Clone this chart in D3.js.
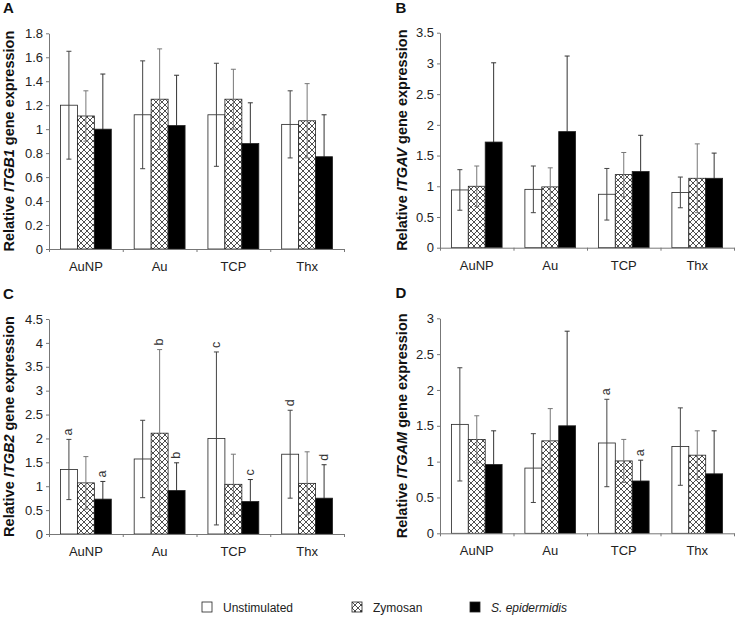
<!DOCTYPE html>
<html>
<head>
<meta charset="utf-8">
<script src="https://cdn.jsdelivr.net/npm/d3@7"></script>
<style>
  body { margin: 0; background: #fff; }
  svg { font-family: "Liberation Sans", Arial, sans-serif; }
</style>
</head>
<body>
<svg id="chart" width="738" height="620"></svg>
<script>
(function () {
    'use strict';

    var categories = ["AuNP", "Au", "TCP", "Thx"];
    var series = ["Unstimulated", "Zymosan", "S. epidermidis"];

    // A - ITGB1
    var itgb1Mean = [[1.20, 1.12, 1.12, 1.04], [1.11, 1.25, 1.25, 1.07], [1.00, 1.03, 0.88, 0.77]];
    var itgb1Err  = [[0.45, 0.45, 0.43, 0.28], [0.21, 0.42, 0.25, 0.31], [0.46, 0.42, 0.34, 0.35]];
    // B - ITGAV
    var itgavMean = [[0.94, 0.95, 0.87, 0.90], [1.00, 0.99, 1.19, 1.13], [1.72, 1.89, 1.24, 1.13]];
    var itgavErr  = [[0.33, 0.38, 0.42, 0.25], [0.33, 0.31, 0.36, 0.56], [1.29, 1.23, 0.59, 0.41]];
    // C - ITGB2
    var itgb2Mean = [[1.35, 1.57, 2.00, 1.67], [1.07, 2.11, 1.04, 1.06], [0.73, 0.91, 0.68, 0.75]];
    var itgb2Err  = [[0.63, 0.81, 1.81, 0.92], [0.55, 1.75, 0.63, 0.66], [0.37, 0.58, 0.46, 0.70]];
    // D - ITGAM
    var itgamMean = [[1.52, 0.91, 1.26, 1.21], [1.31, 1.29, 1.01, 1.09], [0.96, 1.50, 0.73, 0.83]];
    var itgamErr  = [[0.79, 0.48, 0.61, 0.54], [0.33, 0.45, 0.30, 0.34], [0.47, 1.32, 0.29, 0.60]];

    // significance letters [category, series index, letter]
    var itgb2Letters = [["AuNP", 0, "a"], ["AuNP", 2, "a"], ["Au", 1, "b"], ["Au", 2, "b"],
                        ["TCP", 0, "c"], ["TCP", 2, "c"], ["Thx", 0, "d"], ["Thx", 2, "d"]];
    var itgamLetters = [["TCP", 0, "a"], ["TCP", 2, "a"]];

    var panels = [
        {tag: "A", gene: "ITGB1", mean: itgb1Mean, err: itgb1Err, max: 1.8, step: 0.2, letters: [],
         x0: 49, x1: 344, top: 33.3, bottom: 249, titleX: 14},
        {tag: "B", gene: "ITGAV", mean: itgavMean, err: itgavErr, max: 3.5, step: 0.5, letters: [],
         x0: 440, x1: 734, top: 32.7, bottom: 247.7, titleX: 406.5},
        {tag: "C", gene: "ITGB2", mean: itgb2Mean, err: itgb2Err, max: 4.5, step: 0.5, letters: itgb2Letters,
         x0: 49, x1: 344, top: 319, bottom: 534, titleX: 14},
        {tag: "D", gene: "ITGAM", mean: itgamMean, err: itgamErr, max: 3, step: 0.5, letters: itgamLetters,
         x0: 440, x1: 734, top: 318.3, bottom: 533.3, titleX: 406.5}
    ];

    var fills = ["#fff", "url(#cross)", "#000"];
    var errColors = ["#444", "#777", "#333"];
    var svg = d3.select("#chart");

    // crosshatch pattern for zymosan
    var pat = svg.append("defs").append("pattern")
        .attr("id", "cross")
        .attr("patternUnits", "userSpaceOnUse")
        .attr("width", 6).attr("height", 6);
    pat.append("rect").attr("width", 6).attr("height", 6).attr("fill", "#fff");
    pat.append("path")
        .attr("d", "M0,0L6,6M6,0L0,6M-1,5L1,7M5,-1L7,1M-1,1L1,-1M5,7L7,5")
        .attr("stroke", "#222").attr("stroke-width", 0.8);

    panels.forEach(function (p) {
        var g = svg.append("g");
        var back = g.append("g"), front;   // black-series error bars sit behind the bars

        var x = d3.scaleBand().domain(categories).range([p.x0, p.x1]);
        var bw = x.bandwidth();
        var sub = d3.scaleBand().domain(d3.range(series.length)).range([bw * 0.155, bw * 0.845]);
        var y = d3.scaleLinear().domain([0, p.max]).range([p.bottom, p.top]);

        var rows = [];
        p.mean.forEach(function (vals, s) {
            vals.forEach(function (v, c) {
                rows.push({cat: categories[c], s: s, v: v, e: p.err[s][c]});
            });
        });

        g.selectAll("rect.bar").data(rows).enter().append("rect")
            .attr("class", "bar")
            .attr("x", function (d) { return x(d.cat) + sub(d.s); })
            .attr("y", function (d) { return y(d.v); })
            .attr("width", sub.bandwidth())
            .attr("height", function (d) { return y(0) - y(d.v); })
            .attr("fill", function (d) { return fills[d.s]; })
            .attr("stroke", "#222").attr("stroke-width", 0.8);
        front = g.append("g");

        // error bars
        function cx(d) { return x(d.cat) + sub(d.s) + sub.bandwidth() / 2; }
        function lo(d) { return y(Math.max(0, d.v - d.e)); }
        function hi(d) { return y(d.v + d.e); }
        function drawErr(sel, data) {
            var eb = sel.selectAll("g.err").data(data).enter().append("g")
                .attr("class", "err")
                .attr("stroke", function (d) { return errColors[d.s]; }).attr("stroke-width", 1);
            eb.append("line").attr("x1", cx).attr("x2", cx).attr("y1", lo).attr("y2", hi);
            eb.append("line")
                .attr("x1", function (d) { return cx(d) - 2.5; })
                .attr("x2", function (d) { return cx(d) + 2.5; })
                .attr("y1", hi).attr("y2", hi);
            eb.append("line")
                .attr("x1", function (d) { return cx(d) - 2.5; })
                .attr("x2", function (d) { return cx(d) + 2.5; })
                .attr("y1", lo).attr("y2", lo);
        }
        drawErr(back, rows.filter(function (d) { return d.s === 2; }));
        drawErr(front, rows.filter(function (d) { return d.s !== 2; }));

        // letters
        p.letters.forEach(function (l) {
            var c = categories.indexOf(l[0]);
            var top = y(p.mean[l[1]][c] + p.err[l[1]][c]);
            var lx = x(l[0]) + sub(l[1]) + sub.bandwidth() / 2 + 3.5;
            g.append("text")
                .attr("transform", "translate(" + lx + "," + (top - 4) + ") rotate(-90)")
                .attr("font-size", 12.5).attr("fill", "#333")
                .text(l[2]);
        });

        // y axis
        var ticks = d3.range(0, p.max + p.step / 2, p.step);
        var ya = g.append("g")
            .attr("transform", "translate(" + p.x0 + ",0)")
            .call(d3.axisLeft(y).tickValues(ticks).tickSize(3).tickSizeOuter(0).tickPadding(3)
                .tickFormat(function (d) { return String(+d.toFixed(1)); }));
        ya.selectAll("path, line").attr("stroke", "#777");
        ya.selectAll("text").attr("font-size", 13).attr("fill", "#222")
            .attr("font-family", "Liberation Sans, Arial, sans-serif");

        // x axis: ticks between categories
        var xb = d3.scaleLinear().domain([0, categories.length]).range([p.x0, p.x1]);
        var xa = g.append("g")
            .attr("transform", "translate(0," + p.bottom + ")")
            .call(d3.axisBottom(xb).ticks(4).tickSize(3).tickSizeOuter(0).tickFormat(""));
        xa.selectAll("path, line").attr("stroke", "#777");
        g.selectAll("text.cat").data(categories).enter().append("text")
            .attr("class", "cat")
            .attr("x", function (d) { return x(d) + bw / 2; })
            .attr("y", p.bottom + 22)
            .attr("text-anchor", "middle")
            .attr("font-size", 13).attr("fill", "#222")
            .text(function (d) { return d; });

        // axis title
        var t = g.append("text")
            .attr("transform", "translate(" + p.titleX + "," + ((p.top + p.bottom) / 2) + ") rotate(-90)")
            .attr("text-anchor", "middle")
            .attr("font-size", 14.5).attr("font-weight", "bold").attr("fill", "#111");
        t.append("tspan").text("Relative ");
        t.append("tspan").attr("font-style", "italic").text(p.gene);
        t.append("tspan").text(" gene expression");

        // panel letter
        g.append("text")
            .attr("x", p.titleX - 11).attr("y", p.top - 20)
            .attr("font-size", 15).attr("font-weight", "bold").attr("fill", "#111")
            .text(p.tag);
    });

    // legend
    var legendX = [202, 352, 470];
    var lg = svg.append("g").selectAll("g").data(series).enter().append("g")
        .attr("transform", function (d, i) { return "translate(" + legendX[i] + ",602)"; });
    lg.append("rect")
        .attr("width", 10).attr("height", 10)
        .attr("fill", function (d, i) { return fills[i]; })
        .attr("stroke", "#222").attr("stroke-width", 0.8);
    lg.append("text")
        .attr("x", 21).attr("y", 9.5)
        .attr("font-size", 12).attr("fill", "#222")
        .attr("font-style", function (d, i) { return i === 2 ? "italic" : null; })
        .text(function (d) { return d; });
}());
</script>
</body>
</html>
